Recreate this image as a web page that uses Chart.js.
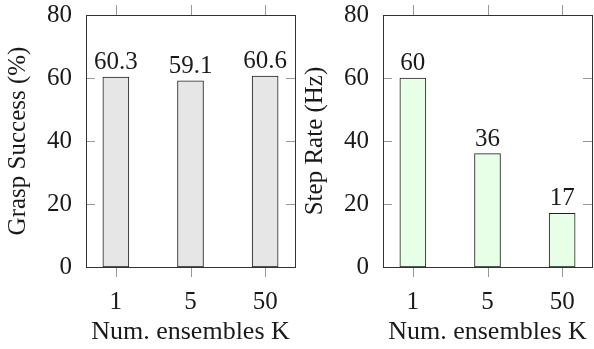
<!DOCTYPE html>
<html>
<head>
<meta charset="utf-8">
<script src="https://cdn.jsdelivr.net/npm/chart.js@4.4.1/dist/chart.umd.min.js"></script>
<style>
  body { margin: 0; background: #fff; }
  canvas { position: absolute; top: 0; }
  #left { left: 0; }
  #right { left: 297px; }
</style>
</head>
<body>
<canvas id="left" width="297" height="349"></canvas>
<canvas id="right" width="297" height="349"></canvas>
<script>
// chart data
var categories = ["1", "5", "50"];
var graspSuccess = [60.3, 59.1, 60.6];
var stepRate = [60, 36, 17];
var yTicks = [0, 20, 40, 60, 80];

var FONT = "'Liberation Serif', 'Times New Roman', serif";
var TEXT = "#1a1a1a";

// frame + pgfplots style tick marks
var framePlugin = {
    id: "frame",
    afterDatasetsDraw: function(chart) {
        var ctx = chart.ctx;
        var a = chart.chartArea;
        var xs = chart.scales.x, ys = chart.scales.y;
        ctx.save();
        ctx.strokeStyle = "#999";
        ctx.lineWidth = 1;
        ctx.beginPath();
        xs.ticks.forEach(function(t) {
            var px = Math.round(xs.getPixelForValue(t.value)) + 0.5;
            ctx.moveTo(px, a.top); ctx.lineTo(px, a.top - 10);
            ctx.moveTo(px, a.bottom); ctx.lineTo(px, a.bottom + 10);
        });
        ys.ticks.forEach(function(t) {
            var py = Math.round(ys.getPixelForValue(t.value)) + 0.5;
            ctx.moveTo(a.left, py); ctx.lineTo(a.left + 9, py);
            ctx.moveTo(a.right, py); ctx.lineTo(a.right - 9, py);
        });
        ctx.stroke();
        ctx.strokeStyle = "#333";
        ctx.strokeRect(Math.round(a.left) + 0.5, Math.round(a.top) + 0.5,
            Math.round(a.right - a.left), Math.round(a.bottom - a.top));
        ctx.restore();
    }
};

// value labels above bars
var labelPlugin = {
    id: "barLabels",
    afterDatasetsDraw: function(chart) {
        var ctx = chart.ctx;
        var ds = chart.data.datasets[0];
        ctx.save();
        ctx.font = "25px " + FONT;
        ctx.fillStyle = TEXT;
        ctx.textAlign = "center";
        ctx.textBaseline = "alphabetic";
        chart.getDatasetMeta(0).data.forEach(function(bar, i) {
            ctx.fillText(String(ds.data[i].y), bar.x, bar.y - 8);
        });
        ctx.restore();
    }
};

function makeChart(id, values, fill, yTitle) {
    var points = [];
    for (var i in values) {
        points.push({ x: Number(i), y: values[i] });
    }
    return new Chart(document.getElementById(id), {
        type: "bar",
        data: {
            datasets: [{
                data: points,
                backgroundColor: fill,
                borderColor: "#222",
                borderWidth: 1,
                borderSkipped: false,
                barThickness: 26
            }]
        },
        options: {
            responsive: false,
            animation: false,
            devicePixelRatio: 1,
            layout: { padding: { top: 15, right: 2, left: 0, bottom: 0 } },
            plugins: { legend: { display: false }, tooltip: { enabled: false } },
            scales: {
                x: {
                    type: "linear",
                    offset: false,
                    min: -0.4,
                    max: 2.4,
                    afterBuildTicks: function(s) {
                        s.ticks = categories.map(function(c, i) { return { value: i }; });
                    },
                    afterFit: function(s) {
                        s.height = 82;
                        s.paddingLeft = 0;
                        s.paddingRight = 0;
                    },
                    grid: { display: false, offset: false },
                    border: { display: false },
                    ticks: {
                        padding: 12,
                        color: TEXT,
                        font: { family: FONT, size: 25 },
                        callback: function(v) { return categories[v]; }
                    },
                    title: {
                        display: true,
                        text: "Num. ensembles K",
                        color: TEXT,
                        font: { family: FONT, size: 26 },
                        padding: { top: 0, bottom: 1 }
                    }
                },
                y: {
                    min: 0,
                    max: 80,
                    afterBuildTicks: function(s) {
                        s.ticks = yTicks.map(function(v) { return { value: v }; });
                    },
                    afterFit: function(s) {
                        s.width = 86;
                        s.paddingTop = 0;
                        s.paddingBottom = 0;
                    },
                    grid: { display: false },
                    border: { display: false },
                    ticks: {
                        padding: 6,
                        color: TEXT,
                        font: { family: FONT, size: 25 }
                    },
                    title: {
                        display: true,
                        text: yTitle,
                        color: TEXT,
                        font: { family: FONT, size: 25 },
                        padding: { top: 3, bottom: 0 }
                    }
                }
            }
        },
        plugins: [framePlugin, labelPlugin]
    });
}

makeChart("left", graspSuccess, "#e6e6e6", "Grasp Success (%)");
makeChart("right", stepRate, "#e6ffe6", "Step Rate (Hz)");
</script>
</body>
</html>
